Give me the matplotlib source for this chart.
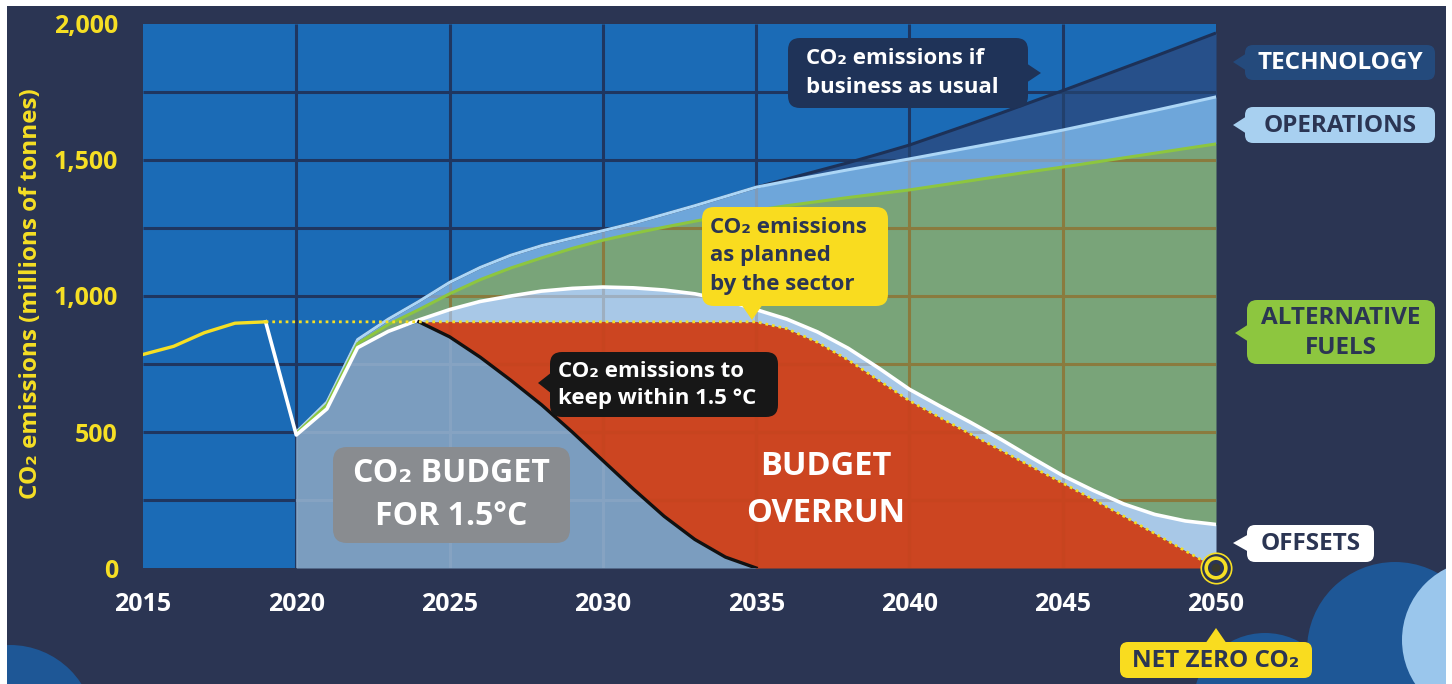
import numpy as np
import matplotlib
matplotlib.use("Agg")
import matplotlib.pyplot as plt
from matplotlib.collections import LineCollection
from matplotlib.patches import FancyBboxPatch, Polygon, Circle, Rectangle

# ---------------- data (millions of tonnes CO2) ----------------
hist_years = [2015, 2016, 2017, 2018, 2019]
hist_emis = [785, 815, 865, 900, 905]

# 2019 .. 2050
plan_years = list(range(2019, 2051))
gross_planned = [905, 489, 585, 810, 870, 912, 950, 980, 1000, 1018, 1028, 1033,
                 1030, 1022, 1008, 985, 950, 915, 868, 808, 735, 657, 595, 535,
                 472, 405, 340, 285, 235, 197, 173, 160]
net_planned = [905, 905, 905, 905, 905, 905, 905, 905, 905, 905, 905, 905,
               905, 905, 905, 905, 905, 880, 830, 765, 690, 615, 553, 492,
               432, 372, 312, 252, 190, 127, 63, 0]

# 2020 .. 2050
scen_years = list(range(2020, 2051))
alt_fuels = [495, 600, 825, 895, 950, 1008, 1060, 1103, 1140, 1175, 1205, 1230,
             1253, 1275, 1296, 1315, 1332, 1347, 1362, 1376, 1390, 1407, 1424,
             1441, 1458, 1474, 1491, 1508, 1525, 1542, 1559]
operations = [500, 610, 840, 915, 980, 1050, 1105, 1150, 1185, 1213, 1240, 1268,
              1300, 1332, 1366, 1400, 1422, 1443, 1464, 1484, 1504, 1525, 1546,
              1567, 1588, 1610, 1634, 1658, 1682, 1707, 1732]
business_as_usual = [500, 610, 840, 915, 980, 1050, 1105, 1150, 1185, 1213, 1240,
                     1268, 1300, 1332, 1366, 1400, 1430, 1460, 1490, 1522, 1555,
                     1594, 1633, 1673, 1714, 1755, 1797, 1839, 1881, 1924, 1967]

# 2024 .. 2035
pathway_years = list(range(2024, 2036))
pathway_15 = [905, 850, 775, 690, 600, 500, 395, 290, 190, 105, 40, 0]

y_ticks = [0, 500, 1000, 1500, 2000]
y_ticklabels = ["0", "500", "1,000", "1,500", "2,000"]
x_ticks = [2015, 2020, 2025, 2030, 2035, 2040, 2045, 2050]

# ---------------- style ----------------
NAVY = "#2b3553"
PLOTBLUE = "#1b6bb6"
GRID = "#1f3660"
YELLOW = "#f6df24"
FONT = ["Open Sans", "DejaVu Sans"]
plt.rcParams["font.family"] = FONT
plt.rcParams["font.weight"] = "bold"

W, H = 1452, 684
fig = plt.figure(figsize=(W / 100, H / 100), dpi=100, facecolor="white")
T = fig.dpi_scale_trans


def P(x, y):
    return (x / 100, (H - y) / 100)


bg = Rectangle(P(7, 684), (1446 - 7) / 100, (684 - 6) / 100, transform=T,
               facecolor=NAVY, edgecolor="none", zorder=-10)
fig.add_artist(bg)

# decorative circles
for (cx, cy, r, col) in [(10, 730, 85, "#1e5796"), (1265, 705, 72, "#1e5796"),
                         (1395, 650, 88, "#1e5796"), (1482, 640, 80, "#9ac6ec")]:
    c = Circle(P(cx, cy), r / 100, transform=T, facecolor=col, edgecolor="none",
               zorder=-5)
    fig.add_artist(c)
    c.set_clip_path(bg)

ax = fig.add_axes([143 / W, 1 - 568 / H, (1216 - 143) / W, (568 - 24) / H])
ax.set_facecolor(PLOTBLUE)
ax.set_xlim(2015, 2050)
ax.set_ylim(0, 2000)
for s in ax.spines.values():
    s.set_visible(False)

GW = 2.2
gx = [2020, 2025, 2030, 2035, 2040, 2045]
gy = [250, 500, 750, 1000, 1250, 1500, 1750]
segs = [[(x, 0), (x, 2000)] for x in gx] + [[(2015, y), (2050, y)] for y in gy]
ax.add_collection(LineCollection(segs, colors=GRID, linewidths=GW, zorder=0.5))

g = np.array(gross_planned)
n = np.array(net_planned)
a = np.array(alt_fuels)
o = np.array(operations)
b = np.array(business_as_usual)
p15 = np.array(pathway_15)
sy = np.array(scen_years)
py = np.array(plan_years)
i24 = plan_years.index(2024)

fills = []
fills.append((ax.fill_between(sy, o, b, color="#27508a", lw=0, zorder=1), "#22406c"))
fills.append((ax.fill_between(sy, a, o, color="#6ea6da", lw=0, zorder=1), "#7f9bb9"))
fills.append((ax.fill_between(sy, g[1:], a, color="#79a479", lw=0, zorder=1), "#8a7b3e"))
fills.append((ax.fill_between(py[i24:], n[i24:], g[i24:], color="#a8c8e7", lw=0, zorder=1), "#9eafc0"))
bud_x = np.array(scen_years[:4] + pathway_years)
bud_top = np.concatenate([g[1:5], p15])
fills.append((ax.fill_between(bud_x, 0, bud_top, color="#7b9dbf", lw=0, zorder=1), "#86a3c2"))
red_low = np.concatenate([p15, np.zeros(len(plan_years) - i24 - len(p15))])
fills.append((ax.fill_between(py[i24:], red_low, n[i24:], color="#cc4521", lw=0, zorder=1), "#c7441f"))

for poly, gc in fills:
    lc = LineCollection(segs, colors=gc, linewidths=GW, zorder=1.5)
    ax.add_collection(lc)
    lc.set_clip_path(poly.get_paths()[0], poly.get_transform())

ax.plot(sy, b, color="#1d3157", lw=2.2, zorder=3, solid_capstyle="butt")
ax.plot(sy, o, color="#acd6f6", lw=2.2, zorder=3)
ax.plot(sy, a, color="#8dc63f", lw=2.2, zorder=3.2)
ax.plot(py, g, color="white", lw=2.6, zorder=3.5)
ax.plot(pathway_years, p15, color="#111111", lw=2.4, zorder=3.5)
ax.plot(py, n, color=YELLOW, lw=2.0, ls=(0, (1, 1.4)), zorder=4)
ax.plot(hist_years, hist_emis, color=YELLOW, lw=2.4, zorder=4)

# net-zero target marker
ax.scatter([plan_years[-1]], [net_planned[-1]], s=480, facecolor=NAVY,
           edgecolor=YELLOW, lw=1.2, zorder=6, clip_on=False)
ax.scatter([plan_years[-1]], [net_planned[-1]], s=200, facecolor="none",
           edgecolor=YELLOW, lw=2.6, zorder=6, clip_on=False)
ax.scatter([plan_years[-1]], [net_planned[-1]], s=40, facecolor="#3a3a2a",
           edgecolor="none", zorder=6, clip_on=False)

ax.set_yticks(y_ticks)
ax.set_yticklabels(y_ticklabels)
ax.set_xticks(x_ticks)
ax.tick_params(axis="both", length=0)
ax.tick_params(axis="y", pad=18, labelsize=18, labelcolor=YELLOW)
ax.tick_params(axis="x", pad=17, labelsize=18, labelcolor="white")
for lab in ax.get_xticklabels() + ax.get_yticklabels():
    lab.set_fontweight("bold")

fig.text(*P(31, 294), "CO₂ emissions (millions of tonnes)", transform=T,
         rotation=90, ha="center", va="center", fontsize=17.5, color=YELLOW,
         fontweight="bold")


def box(x0, y0, x1, y1, fc, r=9, ptr=None):
    bp = FancyBboxPatch(P(x0, y1), (x1 - x0) / 100, (y1 - y0) / 100,
                        boxstyle=f"round,pad=0,rounding_size={r / 100}",
                        transform=T, facecolor=fc, edgecolor="none", zorder=5)
    fig.add_artist(bp)
    if ptr is not None:
        fig.add_artist(Polygon([P(*q) for q in ptr], closed=True, transform=T,
                               facecolor=fc, edgecolor="none", zorder=5))


def label(x, y, s, color, size, ha="left", ls=1.2):
    fig.text(*P(x, y), s, transform=T, ha=ha, va="center", fontsize=size,
             color=color, fontweight="bold", linespacing=ls, zorder=6)


# annotation bubbles
box(788, 38, 1028, 108, "#1f3358", r=12, ptr=[(1026, 63), (1041, 73), (1026, 83)])
label(806, 73, "CO₂ emissions if\nbusiness as usual", "white", 16, ls=1.5)

box(702, 207, 888, 306, "#f9dc1f", r=12, ptr=[(741, 304), (752, 320), (763, 304)])
label(710, 256, "CO₂ emissions\nas planned\nby the sector", NAVY, 16, ls=1.48)

box(550, 352, 778, 417, "#171717", r=12, ptr=[(552, 372), (538, 383), (552, 394)])
label(558, 385, "CO₂ emissions to\nkeep within 1.5 °C", "white", 16, ls=1.42)

box(333, 447, 570, 543, "#898c90", r=14)
label(451, 495, "CO₂ BUDGET\nFOR 1.5°C", "white", 23, ha="center", ls=1.42)

label(826, 490, "BUDGET\nOVERRUN", "white", 23.5, ha="center", ls=1.55)

# right-hand legend tags
box(1245, 45, 1435, 80, "#244a7c", r=8, ptr=[(1247, 53), (1233, 62), (1247, 71)])
label(1340, 63, "TECHNOLOGY", "white", 17.5, ha="center")
box(1245, 107, 1435, 143, "#a8d0f0", r=8, ptr=[(1247, 116), (1233, 125), (1247, 134)])
label(1340, 126, "OPERATIONS", NAVY, 17.5, ha="center")
box(1247, 300, 1435, 364, "#8dc63f", r=10, ptr=[(1249, 324), (1235, 333), (1249, 342)])
label(1341, 333, "ALTERNATIVE\nFUELS", NAVY, 17.5, ha="center", ls=1.38)
box(1247, 525, 1374, 562, "white", r=8, ptr=[(1249, 534), (1233, 543), (1249, 552)])
label(1311, 544, "OFFSETS", NAVY, 17.5, ha="center")
box(1120, 642, 1312, 678, "#f9dc1f", r=8, ptr=[(1205, 644), (1216, 628), (1227, 644)])
label(1216, 661, "NET ZERO CO₂", NAVY, 17.5, ha="center")

fig.savefig("out.png", dpi=100, facecolor="white")
